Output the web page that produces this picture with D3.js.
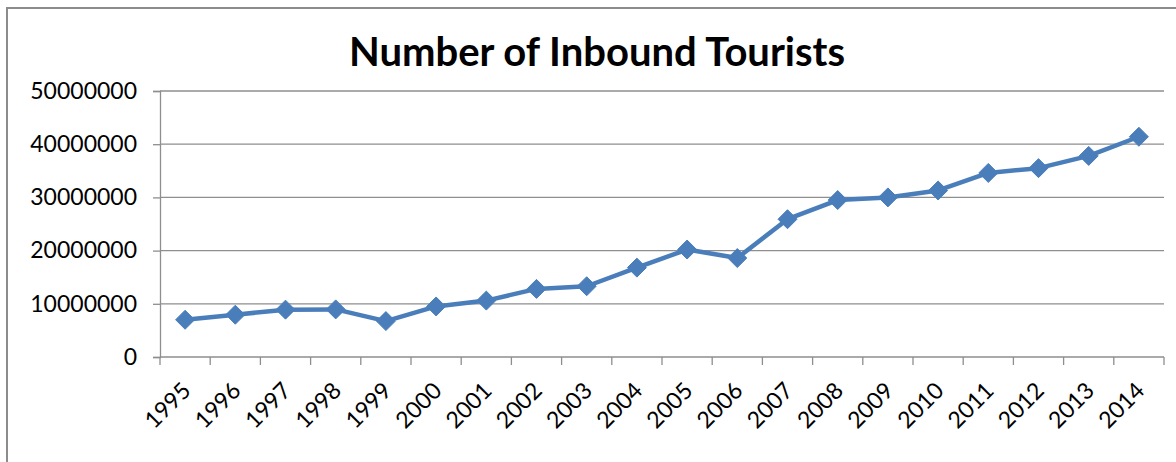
<!DOCTYPE html>
<html>
<head>
<meta charset="utf-8">
<script src="https://cdn.jsdelivr.net/npm/d3@7"></script>
<style>
  body { margin: 0; background: #fff; }
  svg text { font-family: Lato, "Open Sans", sans-serif; fill: #000; }
</style>
</head>
<body>
<svg id="chart" width="1176" height="462"></svg>
<script>
// data
var years = ["1995", "1996", "1997", "1998", "1999", "2000", "2001", "2002", "2003", "2004",
             "2005", "2006", "2007", "2008", "2009", "2010", "2011", "2012", "2013", "2014"];
var tourists = [7000000, 7950000, 8900000, 8950000, 6750000, 9500000, 10600000, 12800000, 13300000, 16800000,
                20200000, 18600000, 25900000, 29500000, 30000000, 31300000, 34600000, 35500000, 37800000, 41400000];
var yTicks = [0, 10000000, 20000000, 30000000, 40000000, 50000000];
var chartTitle = "Number of Inbound Tourists";

var svg = d3.select("#chart");
var plotLeft = 160, plotRight = 1164, plotTop = 91, plotBottom = 357;

// outer frame (runs off the right and bottom edge)
svg.append("rect")
    .attr("x", 7).attr("y", 8)
    .attr("width", 1200).attr("height", 500)
    .attr("fill", "#fff")
    .attr("stroke", "#8c8c8c")
    .attr("stroke-width", 2);

var x = d3.scaleBand().domain(years).range([plotLeft, plotRight]);
var y = d3.scaleLinear().domain([0, 50000000]).range([plotBottom, plotTop]);

// gridlines
svg.append("g").selectAll("line")
    .data(yTicks.slice(1))
    .enter().append("line")
    .attr("x1", plotLeft).attr("x2", plotRight)
    .attr("y1", function (d) { return y(d); })
    .attr("y2", function (d) { return y(d); })
    .attr("stroke", "#8e8e8e")
    .attr("stroke-width", 1.3);

// y axis
var yAxis = svg.append("g")
    .attr("transform", "translate(" + plotLeft + ",0)")
    .call(d3.axisLeft(y).tickValues(yTicks).tickFormat(d3.format("d")).tickSize(7).tickPadding(16));
yAxis.select(".domain").attr("stroke", "#8e8e8e").attr("stroke-width", 1.3);
yAxis.selectAll(".tick line").attr("stroke", "#8e8e8e").attr("stroke-width", 1.3);
yAxis.selectAll("text").attr("font-size", 23).attr("font-family", "Lato, sans-serif").attr("fill", "#000");

// x axis: ticks between categories
var xAxis = svg.append("g").attr("transform", "translate(0," + plotBottom + ")");
xAxis.append("line")
    .attr("x1", plotLeft).attr("x2", plotRight)
    .attr("stroke", "#8e8e8e").attr("stroke-width", 1.3);
var bounds = years.map(function (d) { return x(d); }).concat([plotRight]);
xAxis.selectAll(".xt")
    .data(bounds)
    .enter().append("line")
    .attr("class", "xt")
    .attr("x1", function (d) { return d; }).attr("x2", function (d) { return d; })
    .attr("y1", 0).attr("y2", 8)
    .attr("stroke", "#8e8e8e").attr("stroke-width", 1.3);
xAxis.selectAll(".xl")
    .data(years)
    .enter().append("text")
    .attr("class", "xl")
    .attr("font-size", 23)
    .attr("text-anchor", "end")
    .attr("transform", function (d) {
        return "translate(" + (x(d) + x.bandwidth() / 2 + 7) + ",35) rotate(-45)";
    })
    .text(function (d) { return d; });

// series line
var line = d3.line()
    .x(function (d, i) { return x(years[i]) + x.bandwidth() / 2; })
    .y(function (d) { return y(d); });
svg.append("path")
    .datum(tourists)
    .attr("d", line)
    .attr("fill", "none")
    .attr("stroke", "#4a7ebb")
    .attr("stroke-width", 4.5)
    .attr("stroke-linejoin", "round");

// diamond markers
svg.append("g").selectAll("path")
    .data(tourists)
    .enter().append("path")
    .attr("transform", function (d, i) {
        return "translate(" + (x(years[i]) + x.bandwidth() / 2) + "," + y(d) + ")";
    })
    .attr("d", d3.symbol().type(d3.symbolDiamond2).size(230))
    .attr("fill", "#4a7ebb")
    .attr("stroke", "#4a7ebb")
    .attr("stroke-width", 1);

// title
svg.append("text")
    .attr("x", 597).attr("y", 66)
    .attr("text-anchor", "middle")
    .attr("font-size", 40)
    .attr("font-weight", "bold")
    .text(chartTitle);
</script>
</body>
</html>
